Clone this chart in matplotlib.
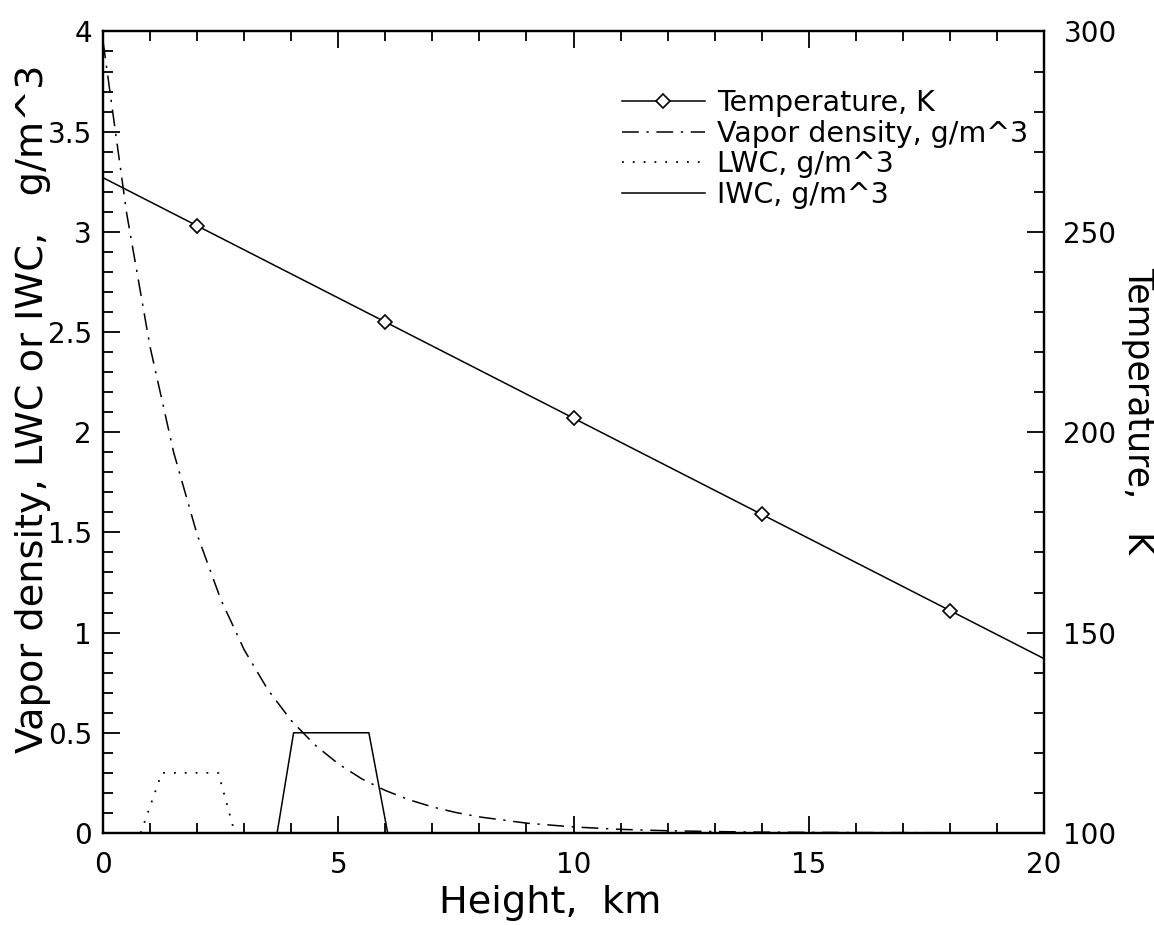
import numpy as np
import matplotlib
matplotlib.use("Agg")
import matplotlib.pyplot as plt
from matplotlib.ticker import MultipleLocator

plt.rcParams['font.family'] = ['DejaVu Sans']

# temperature profile (K), markers on the inner points
temp_height = [0, 2, 6, 10, 14, 18, 20]
temp_k = [263.5, 251.5, 227.5, 203.5, 179.5, 155.5, 143.5]

# water vapour density (g/m^3)
vap_height = [0, 0.5, 1, 1.5, 2, 2.5, 3, 3.5, 4, 4.5, 5, 5.5, 6, 6.5, 7, 7.5,
              8, 9, 10, 11, 12, 13, 14, 16, 18, 20]
vap_density = [3.95, 3.095, 2.425, 1.900, 1.489, 1.167, 0.914, 0.716, 0.561,
               0.440, 0.345, 0.270, 0.212, 0.166, 0.130, 0.102, 0.080, 0.049,
               0.030, 0.018, 0.011, 0.007, 0.004, 0.002, 0.001, 0.0]

# liquid and ice water content layers (g/m^3)
lwc_height = [0.8, 1.25, 2.45, 2.8]
lwc = [0.0, 0.3, 0.3, 0.0]
iwc_height = [3.7, 4.05, 5.65, 6.05]
iwc = [0.0, 0.5, 0.5, 0.0]

fig = plt.figure(figsize=(11.54, 9.25), dpi=100)
ax = fig.add_axes([0.0893, 0.0995, 0.8154, 0.8665])
ax2 = ax.twinx()

LW = 1.1
h_vap, = ax.plot(vap_height, vap_density, color='black', lw=LW,
                 dashes=(11, 5, 1.5, 5), label='Vapor density, g/m^3')
h_lwc, = ax.plot(lwc_height, lwc, color='black', lw=1.3,
                 linestyle=(0, (1, 5)), label='LWC, g/m^3')
h_iwc, = ax.plot(iwc_height, iwc, color='black', lw=LW, label='IWC, g/m^3')
h_temp, = ax2.plot(temp_height, temp_k, color='black', lw=LW, marker='D',
                   ms=7, mfc='white', mec='black', mew=1.2,
                   markevery=[1, 2, 3, 4, 5], label='Temperature, K')

ax.set_xlim(0, 20)
ax.set_ylim(0, 4)
ax2.set_ylim(100, 300)

ax.xaxis.set_major_locator(MultipleLocator(5))
ax.xaxis.set_minor_locator(MultipleLocator(1))
ax.yaxis.set_minor_locator(MultipleLocator(0.1))
ax2.yaxis.set_major_locator(MultipleLocator(50))
ax2.yaxis.set_minor_locator(MultipleLocator(10))

ax.set_yticks([0, 0.5, 1, 1.5, 2, 2.5, 3, 3.5, 4])
ax.set_yticklabels(['0', '0.5', '1', '1.5', '2', '2.5', '3', '3.5', '4'])

ax.tick_params(which='both', direction='in', top=True, right=False,
               labelsize=20, width=1.3)
ax.tick_params(axis='x', pad=13)
ax.tick_params(axis='y', pad=8)
ax.tick_params(which='major', length=12)
ax.tick_params(which='minor', length=7)
ax2.tick_params(which='both', direction='in', labelsize=20, width=1.3, pad=14)
ax2.tick_params(which='major', length=12)
ax2.tick_params(which='minor', length=7)

for s in list(ax.spines.values()) + list(ax2.spines.values()):
    s.set_linewidth(1.6)

ax.set_xlabel('Height,  km', fontsize=27.5, va='center')
ax.xaxis.set_label_coords(0.475, -0.088)
ax.set_ylabel('Vapor density, LWC or IWC,   g/m^3', fontsize=27.5, va='center')
ax.yaxis.set_label_coords(-0.074, 0.529)
ax2.set_ylabel('Temperature,   K', fontsize=25, rotation=270, va='center')
ax2.yaxis.set_label_coords(1.1, 0.5275)

ax.legend(handles=[h_temp, h_vap, h_lwc, h_iwc], loc='upper left',
          bbox_to_anchor=(0.5515, 0.928), frameon=False, fontsize=20.5,
          handlelength=2.9, handletextpad=0.45, labelspacing=0.09,
          borderpad=0, borderaxespad=0)

fig.savefig('out.png', dpi=100)
